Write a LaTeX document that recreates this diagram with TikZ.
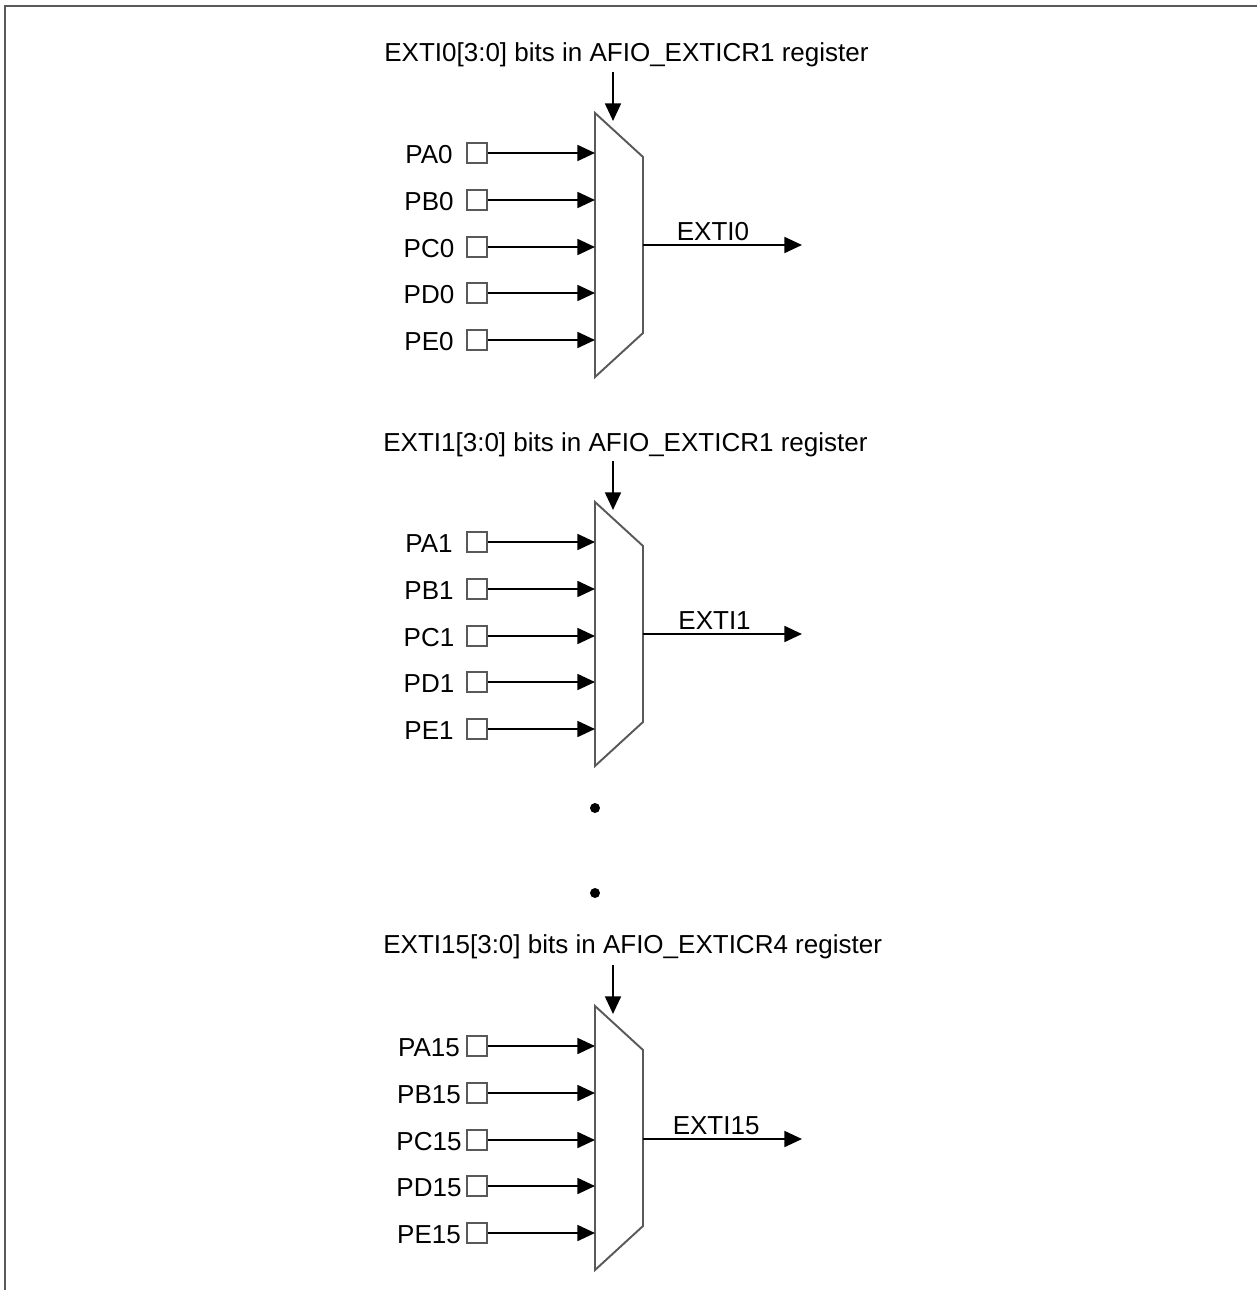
\documentclass[tikz,border=0pt]{standalone}
\usepackage{fontspec}
\setmainfont{Liberation Sans}
\usepackage{tikz}
\usetikzlibrary{arrows.meta}
\tikzset{
  arr/.style={-{Triangle[length=10pt,width=9pt]}, line width=1.3pt, black},
  pinbox/.style={draw=black!65, line width=1pt, minimum size=0.4cm, inner sep=0pt},
  muxline/.style={draw=black!65, line width=1.1pt},
  frame/.style={draw=black!65, line width=1.4pt}
}
\begin{document}
\begin{tikzpicture}[x=0.02cm, y=-0.02cm, font=\fontsize{14.8}{17}\selectfont]
        \useasboundingbox (0,0) rectangle (1257,1290);
        \draw[frame] (5,1290) -- (5,6) -- (1257,6);
        \node[anchor=base west, inner sep=0pt] (T0) at (384,62) {EXTI0[3:0] bits in AFIO\_EXTICR1 register};
        \node[anchor=base west, inner sep=0pt] (T1) at (383,451) {EXTI1[3:0] bits in AFIO\_EXTICR1 register};
        \node[anchor=base west, inner sep=0pt] (T15) at (383,953) {EXTI15[3:0] bits in AFIO\_EXTICR4 register};
        \coordinate (c0) at (613,72);
        \coordinate (d0) at (613,121);
        \coordinate (c1) at (613,461);
        \coordinate (d1) at (613,510);
        \coordinate (c15) at (613,965);
        \coordinate (d15) at (613,1014);
        \coordinate (m0a) at (595,113);
        \coordinate (m0b) at (643,157);
        \coordinate (m0c) at (643,333);
        \coordinate (m0d) at (595,377);
        \coordinate (m1a) at (595,502);
        \coordinate (m1b) at (643,546);
        \coordinate (m1c) at (643,722);
        \coordinate (m1d) at (595,766);
        \coordinate (m15a) at (595,1006);
        \coordinate (m15b) at (643,1050);
        \coordinate (m15c) at (643,1226);
        \coordinate (m15d) at (595,1270);
        \coordinate (o0) at (643,245);
        \coordinate (e0) at (802,245);
        \coordinate (o1) at (643,634);
        \coordinate (e1) at (802,634);
        \coordinate (o15) at (643,1139);
        \coordinate (e15) at (802,1139);
        \node (PA0) at (429,155) {PA0};
        \node (PB0) at (429,202) {PB0};
        \node (PC0) at (429,249) {PC0};
        \node (PD0) at (429,295) {PD0};
        \node (PE0) at (429,342) {PE0};
        \node (PA1) at (429,544) {PA1};
        \node (PB1) at (429,591) {PB1};
        \node (PC1) at (429,638) {PC1};
        \node (PD1) at (429,684) {PD1};
        \node (PE1) at (429,731) {PE1};
        \node (PA15) at (429,1048) {PA15};
        \node (PB15) at (429,1095) {PB15};
        \node (PC15) at (429,1142) {PC15};
        \node (PD15) at (429,1188) {PD15};
        \node (PE15) at (429,1235) {PE15};
        \node[pinbox] (sA0) at (477,153) {};
        \node[pinbox] (sB0) at (477,200) {};
        \node[pinbox] (sC0) at (477,247) {};
        \node[pinbox] (sD0) at (477,293) {};
        \node[pinbox] (sE0) at (477,340) {};
        \node[pinbox] (sA1) at (477,542) {};
        \node[pinbox] (sB1) at (477,589) {};
        \node[pinbox] (sC1) at (477,636) {};
        \node[pinbox] (sD1) at (477,682) {};
        \node[pinbox] (sE1) at (477,729) {};
        \node[pinbox] (sA15) at (477,1046) {};
        \node[pinbox] (sB15) at (477,1093) {};
        \node[pinbox] (sC15) at (477,1140) {};
        \node[pinbox] (sD15) at (477,1186) {};
        \node[pinbox] (sE15) at (477,1233) {};
        \node[circle, fill=black, inner sep=0pt, minimum size=0.2cm] (dot1) at (595,808) {};
        \node[circle, fill=black, inner sep=0pt, minimum size=0.2cm] (dot2) at (595,893) {};
        \draw[muxline, fill=white] (m0a) -- (m0b) -- (m0c) -- (m0d) -- cycle;
        \draw[muxline, fill=white] (m1a) -- (m1b) -- (m1c) -- (m1d) -- cycle;
        \draw[muxline, fill=white] (m15a) -- (m15b) -- (m15c) -- (m15d) -- cycle;
        \draw[arr] (c0) to (d0);
        \draw[arr] (c1) to (d1);
        \draw[arr] (c15) to (d15);
        \draw[arr] (sA0) to (sA0 -| m0a);
        \draw[arr] (sB0) to (sB0 -| m0a);
        \draw[arr] (sC0) to (sC0 -| m0a);
        \draw[arr] (sD0) to (sD0 -| m0a);
        \draw[arr] (sE0) to (sE0 -| m0a);
        \draw[arr] (sA1) to (sA1 -| m1a);
        \draw[arr] (sB1) to (sB1 -| m1a);
        \draw[arr] (sC1) to (sC1 -| m1a);
        \draw[arr] (sD1) to (sD1 -| m1a);
        \draw[arr] (sE1) to (sE1 -| m1a);
        \draw[arr] (sA15) to (sA15 -| m15a);
        \draw[arr] (sB15) to (sB15 -| m15a);
        \draw[arr] (sC15) to (sC15 -| m15a);
        \draw[arr] (sD15) to (sD15 -| m15a);
        \draw[arr] (sE15) to (sE15 -| m15a);
        \draw[arr] (o0) to node[above, pos=0.44, inner sep=2pt] {EXTI0} (e0);
        \draw[arr] (o1) to node[above, pos=0.45, inner sep=2pt] {EXTI1} (e1);
        \draw[arr] (o15) to node[above, pos=0.46, inner sep=2pt] {EXTI15} (e15);
      \end{tikzpicture}
\end{document}
